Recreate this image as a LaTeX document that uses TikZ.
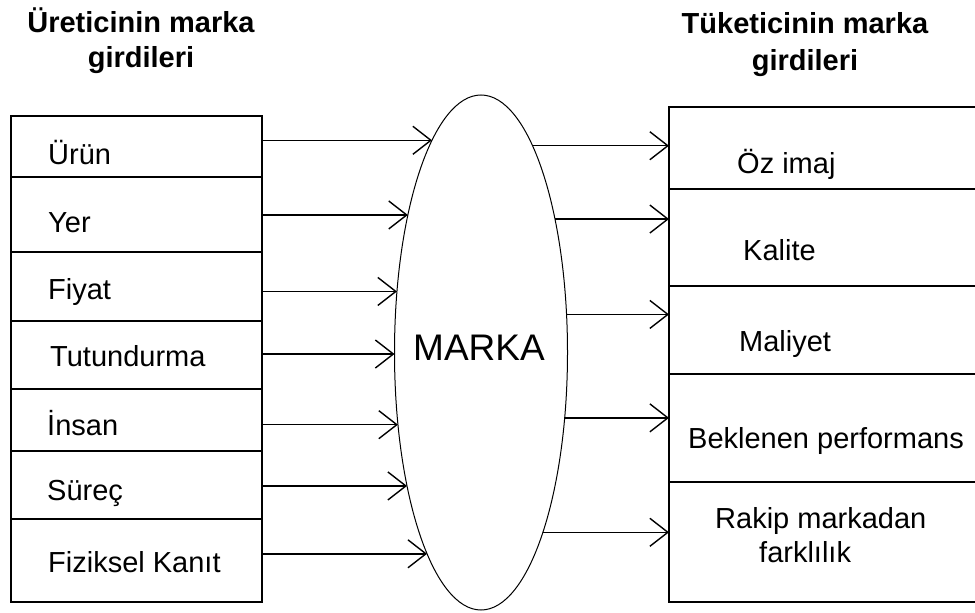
\documentclass[tikz,border=0pt]{standalone}
\usepackage{fontspec}
\setmainfont{Liberation Sans}
\usetikzlibrary{arrows.meta,shapes.geometric}
\begin{document}
\begin{tikzpicture}[x=1pt,y=-1pt,
  every node/.style={font=\fontsize{29}{34}\selectfont},
  rowbox/.style={draw, line width=1.4pt, rectangle, inner sep=0pt, outer sep=0pt, minimum width=251pt},
  rrow/.style={rectangle, inner sep=0pt, outer sep=0pt, minimum width=306pt},
  lbl/.style={anchor=base west, inner sep=0pt},
  ttl/.style={anchor=base, inner sep=0pt, font=\bfseries\fontsize{29}{34}\selectfont},
  edge/.style={line width=1.4pt},
  arr/.style={line width=1.4pt, -{Straight Barb[length=18pt,width=28pt]}},
]
\useasboundingbox (0,0) rectangle (975,613);

% titles
\node[ttl] (tl1) at (141,32) {Üreticinin marka};
\node[ttl] (tl2) at (141,67) {girdileri};
\node[ttl] (tr1) at (805,34) {Tüketicinin marka};
\node[ttl] (tr2) at (805,70) {girdileri};

% left boxes
\node[rowbox, minimum height=61pt] (L1) at (136.5,146.5) {};
\node[rowbox, minimum height=75pt] (L2) at (136.5,214.5) {};
\node[rowbox, minimum height=69pt] (L3) at (136.5,286.5) {};
\node[rowbox, minimum height=68pt] (L4) at (136.5,355) {};
\node[rowbox, minimum height=62pt] (L5) at (136.5,420) {};
\node[rowbox, minimum height=68pt] (L6) at (136.5,485) {};
\node[rowbox, minimum height=83pt] (L7) at (136.5,560.5) {};

\node[lbl] (t1) at (48,164) {Ürün};
\node[lbl] (t2) at (48,232) {Yer};
\node[lbl] (t3) at (48,299) {Fiyat};
\node[lbl] (t4) at (50,366) {Tutundurma};
\node[lbl] (t5) at (47,435) {İnsan};
\node[lbl] (t6) at (47,500) {Süreç};
\node[lbl] (t7) at (48,572) {Fiziksel Kanıt};

% ellipse
\node[draw, ellipse, line width=1pt, minimum width=173pt, minimum height=515pt,
      inner sep=0pt, outer sep=0pt] (marka) at (481,352.5) {};
\node[anchor=base, inner sep=0pt, font=\fontsize{37}{40}\selectfont] (mt) at (479,360) {MARKA};

% right boxes
\node[rrow, minimum height=82pt] (R1) at (822,148) {};
\node[rrow, minimum height=97pt] (R2) at (822,237.5) {};
\node[rrow, minimum height=88pt] (R3) at (822,330) {};
\node[rrow, minimum height=108pt] (R4) at (822,428) {};
\node[rrow, minimum height=120pt] (R5) at (822,542) {};
\draw[edge] (R1.north east) -- (R1.north west) -- (R5.south west) -- (R5.south east);
\foreach \i in {1,...,4} \draw[edge] (R\i.south west) -- (R\i.south east);

\node[lbl] (u1) at (737,173) {Öz imaj};
\node[lbl] (u2) at (743,260) {Kalite};
\node[lbl] (u3) at (739,351) {Maliyet};
\node[lbl] (u4) at (688,448) {Beklenen performans};
\node[lbl] (u5a) at (715,528) {Rakip markadan};
\node[lbl] (u5b) at (759,562) {farklılık};

% arrows
\foreach \i/\a in {1/103.68, 2/118.25, 3/144.26, 4/181.66, 5/221.98, 6/241.26, 7/255.58}
  \draw[arr] (L\i.east |- marka.\a) -- (marka.\a);
\foreach \i/\a in {1/76.32, 2/61.01, 3/24.23, 4/322.85, 5/289.84}
  \draw[arr] (marka.\a) -- (R\i.west |- marka.\a);
\end{tikzpicture}
\end{document}
